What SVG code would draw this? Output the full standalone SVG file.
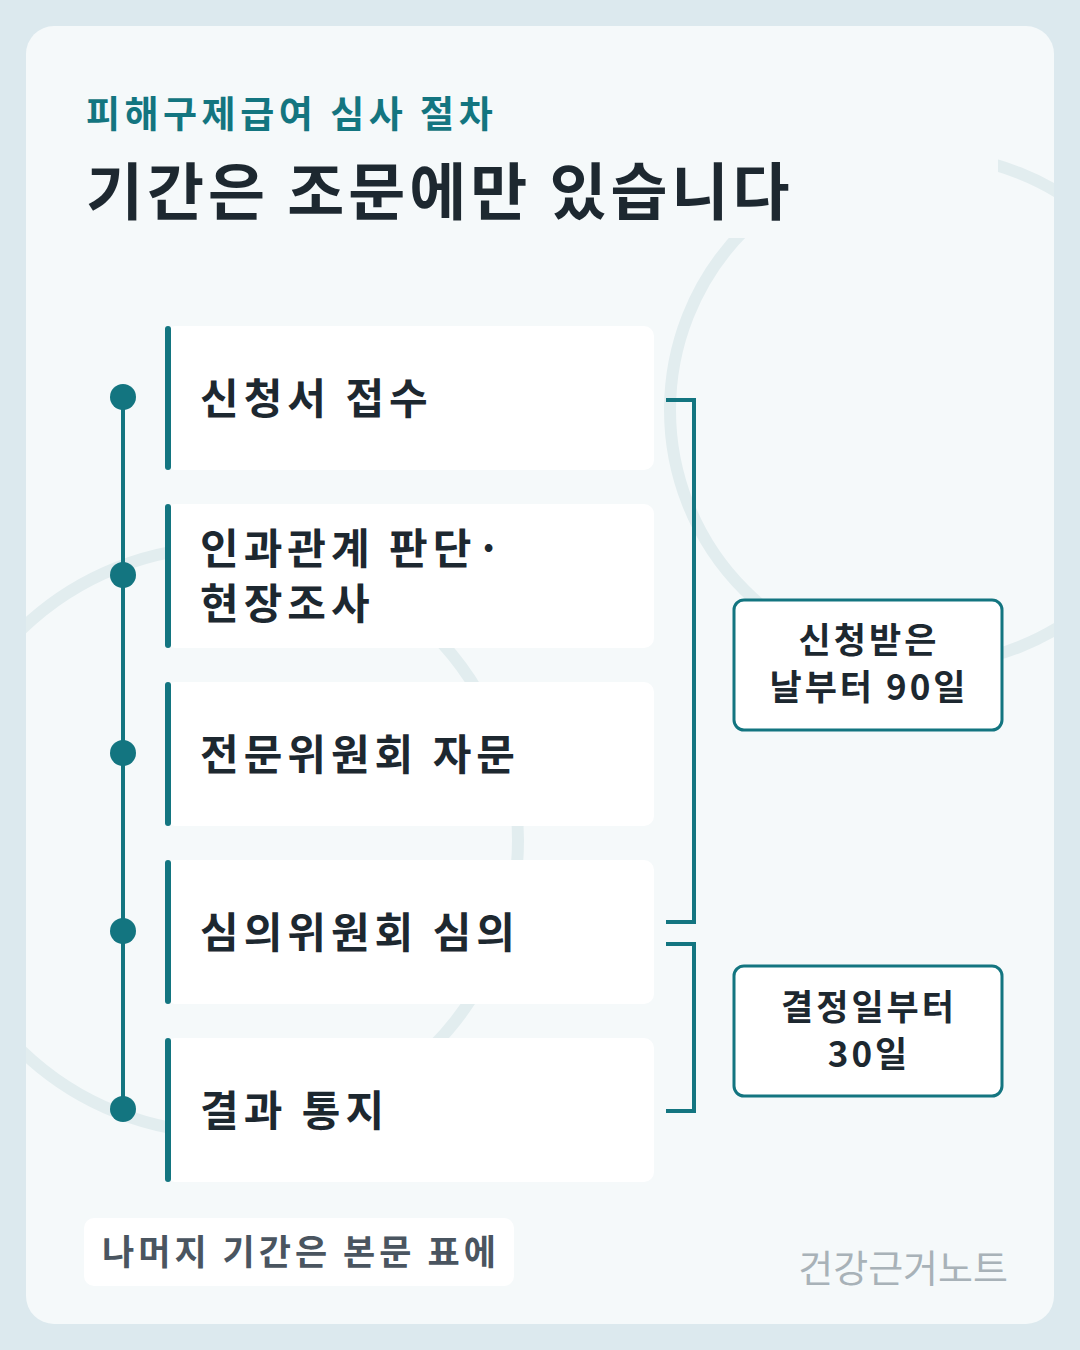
<svg xmlns="http://www.w3.org/2000/svg" width="1080" height="1350" viewBox="0 0 1080 1350">
<style>
.t{font-family:"Noto Sans CJK KR","Noto Sans",sans-serif;font-weight:700}
.step{font-size:42px;fill:#1d2830;letter-spacing:5px}
.lab{font-size:35px;fill:#1d2830;text-anchor:middle;letter-spacing:3px}
.box{fill:#ffffff}
.bar{fill:#137580}
.br{fill:none;stroke:#137580;stroke-width:4}
</style>
<defs>
<clipPath id="card"><rect x="26" y="26" width="1028" height="1298" rx="28"/></clipPath>
</defs>
<rect width="1080" height="1350" fill="#dce9ee"/>
<rect x="26" y="26" width="1028" height="1298" rx="28" fill="#f5f9fa"/>
<g clip-path="url(#card)" fill="none" stroke="#e2edef" stroke-width="12">
<circle cx="925" cy="410" r="255"/>
<circle cx="225" cy="840" r="293"/>
</g>
<rect x="80" y="140" width="918" height="98" fill="#f5f9fa"/>
<text class="t" x="86" y="128" font-size="37" fill="#137580" letter-spacing="4.5">피해구제급여 심사 절차</text>
<text class="t" x="86" y="215" font-size="62" fill="#1d2830" letter-spacing="4">기간은 조문에만 있습니다</text>
<g id="connectors">
<line x1="123" y1="397" x2="123" y2="1109" stroke="#137580" stroke-width="4"/>
<polyline class="br" points="666,400 694,400 694,922 666,922"/>
<polyline class="br" points="666,944 694,944 694,1111 666,1111"/>
</g>
<g id="n1"><circle cx="123" cy="397" r="13" class="bar"/><rect class="box" x="165" y="326" width="489" height="144" rx="10"/><rect class="bar" x="165" y="326" width="6" height="144" rx="3"/><text class="t step" x="200" y="414">신청서 접수</text></g>
<g id="n2"><circle cx="123" cy="575" r="13" class="bar"/><rect class="box" x="165" y="504" width="489" height="144" rx="10"/><rect class="bar" x="165" y="504" width="6" height="144" rx="3"/><text class="t step" x="200" y="564">인과관계 판단·</text><text class="t step" x="200" y="619">현장조사</text></g>
<g id="n3"><circle cx="123" cy="753" r="13" class="bar"/><rect class="box" x="165" y="682" width="489" height="144" rx="10"/><rect class="bar" x="165" y="682" width="6" height="144" rx="3"/><text class="t step" x="200" y="770">전문위원회 자문</text></g>
<g id="n4"><circle cx="123" cy="931" r="13" class="bar"/><rect class="box" x="165" y="860" width="489" height="144" rx="10"/><rect class="bar" x="165" y="860" width="6" height="144" rx="3"/><text class="t step" x="200" y="948">심의위원회 심의</text></g>
<g id="n5"><circle cx="123" cy="1109" r="13" class="bar"/><rect class="box" x="165" y="1038" width="489" height="144" rx="10"/><rect class="bar" x="165" y="1038" width="6" height="144" rx="3"/><text class="t step" x="200" y="1126">결과 통지</text></g>
<g id="l1"><rect x="734" y="600" width="268" height="130" rx="10" fill="#fff" stroke="#137580" stroke-width="3"/><text class="t lab" x="869" y="653">신청받은</text><text class="t lab" x="869" y="700">날부터 90일</text></g>
<g id="l2"><rect x="734" y="966" width="268" height="130" rx="10" fill="#fff" stroke="#137580" stroke-width="3"/><text class="t lab" x="869" y="1020">결정일부터</text><text class="t lab" x="869" y="1067">30일</text></g>
<g id="note"><rect x="84" y="1218" width="430" height="68" rx="10" fill="#fff"/><text class="t" x="102" y="1265" font-size="35" fill="#4a5560" letter-spacing="4">나머지 기간은 본문 표에</text></g>
<text x="1008" y="1282" text-anchor="end" font-family="Noto Sans CJK KR,sans-serif" font-size="38" fill="#a8b2b8">건강근거노트</text>
</svg>
